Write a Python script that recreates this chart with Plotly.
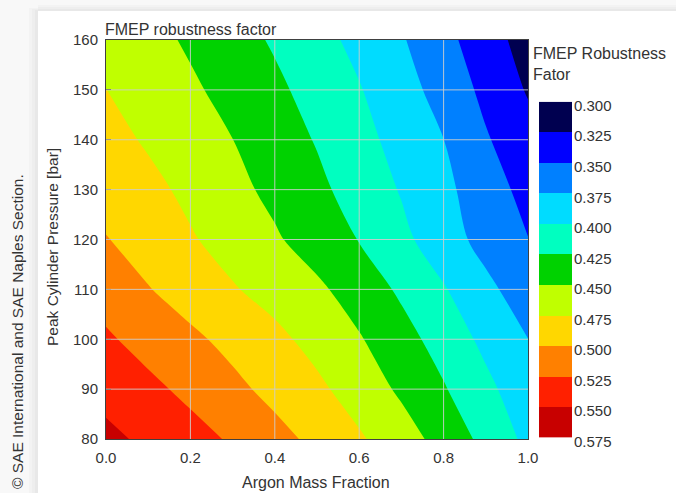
import plotly.graph_objects as go

# ---- data ----
argon = [0.0, 0.1, 0.2, 0.3, 0.4, 0.5, 0.6, 0.7, 0.8, 0.9, 1.0]
pressure = [80, 90, 100, 110, 120, 130, 140, 150, 160]
fmep = [
    [0.556, 0.545, 0.534, 0.522, 0.508, 0.494, 0.478, 0.461, 0.441, 0.418, 0.394],   # 80
    [0.542, 0.531, 0.519, 0.506, 0.493, 0.480, 0.464, 0.446, 0.427, 0.406, 0.385],   # 90
    [0.5285, 0.516, 0.505, 0.493, 0.481, 0.467, 0.452, 0.434, 0.415, 0.394, 0.3752], # 100
    [0.5146, 0.5012, 0.489, 0.477, 0.466, 0.4545, 0.439, 0.421, 0.402, 0.381, 0.362],# 110
    [0.5008, 0.4887, 0.4774, 0.4653, 0.453, 0.4389, 0.4241, 0.406, 0.3864, 0.3666, 0.3505], # 120
    [0.493, 0.4817, 0.4693, 0.4569, 0.444, 0.4304, 0.415, 0.3983, 0.3808, 0.3618, 0.342],   # 130
    [0.4835, 0.4721, 0.4611, 0.4502, 0.4368, 0.4234, 0.4078, 0.3917, 0.3752, 0.3523, 0.334], # 140
    [0.4752, 0.4645, 0.4539, 0.4422, 0.4299, 0.4162, 0.4015, 0.3847, 0.3657, 0.3441, 0.3229],# 150
    [0.469, 0.458, 0.4465, 0.4345, 0.4222, 0.4082, 0.3934, 0.3773, 0.3574, 0.3362, 0.3147],  # 160
]
levels = [0.300, 0.325, 0.350, 0.375, 0.400, 0.425, 0.450, 0.475, 0.500, 0.525, 0.550, 0.575]
level_labels = ["%.3f" % v for v in levels]
band_colors = ["#000050", "#0000ff", "#0080ff", "#00dcff", "#00ffc0", "#00d200",
               "#c0ff00", "#ffd700", "#ff8000", "#ff2000", "#c80000"]
x_ticks = [0.0, 0.2, 0.4, 0.6, 0.8, 1.0]
y_ticks = [80, 90, 100, 110, 120, 130, 140, 150, 160]

step = levels[1] - levels[0]
zmin = levels[0] - step / 2
zmax = levels[-1] + step / 2
stops = [band_colors[0]] + band_colors + [band_colors[-1]]
colorscale = [[k / (len(stops) - 1), c] for k, c in enumerate(stops)]
mids = [(levels[i] + levels[i + 1]) / 2 for i in range(len(levels) - 1)]

FONT = "Liberation Sans, Arial, sans-serif"
TXT = "#333333"
W, H = 676, 493
L, R, T, B = 106, 104, 40, 54
pw = W - L - R
ph = H - T - B


def px_x(p):
    return (p - L) / pw


def px_y(p):
    return (H - B - p) / ph


fig = go.Figure()
fig.add_trace(go.Contour(
    x=argon, y=pressure, z=fmep,
    autocontour=False,
    contours=dict(start=levels[0], end=levels[-1], size=step, coloring="fill", showlines=False),
    line=dict(width=0),
    colorscale=colorscale, zmin=zmin, zmax=zmax,
    showscale=False, hoverinfo="x+y+z",
))

# colour key drawn as a heatmap on its own axes
fig.add_trace(go.Heatmap(
    x=[0, 1], y=levels, z=[[m] for m in mids],
    colorscale=colorscale, zmin=zmin, zmax=zmax,
    showscale=False, xaxis="x2", yaxis="y2", hoverinfo="skip",
))

shapes = []
# background card and shadow
shapes.append(dict(type="rect", xref="paper", yref="paper", layer="below",
                   x0=px_x(-5), x1=px_x(W + 5), y0=px_y(H + 5), y1=px_y(-5),
                   fillcolor="#f8f8f8", line=dict(width=0)))
for i, g in enumerate(["#f3f3f3", "#eeeeee", "#e8e8e8"]):
    shapes.append(dict(type="rect", xref="paper", yref="paper", layer="below",
                       x0=px_x(29 + 3 * i), x1=px_x(38), y0=px_y(H + 5), y1=px_y(11 - 3 + i),
                       fillcolor=g, line=dict(width=0)))
    shapes.append(dict(type="rect", xref="paper", yref="paper", layer="below",
                       x0=px_x(38), x1=px_x(W + 5), y0=px_y(11), y1=px_y(5 + 2 * i),
                       fillcolor=g, line=dict(width=0)))
shapes.append(dict(type="rect", xref="paper", yref="paper", layer="below",
                   x0=px_x(38), x1=px_x(W + 5), y0=px_y(H + 5), y1=px_y(11),
                   fillcolor="white", line=dict(width=0)))
# grid lines on top of the contour fill
for xv in x_ticks[1:-1]:
    shapes.append(dict(type="line", xref="x", yref="y", layer="above",
                       x0=xv, x1=xv, y0=y_ticks[0], y1=y_ticks[-1],
                       line=dict(color="rgba(205,205,205,0.9)", width=1)))
for yv in y_ticks[1:-1]:
    shapes.append(dict(type="line", xref="x", yref="y", layer="above",
                       x0=x_ticks[0], x1=x_ticks[-1], y0=yv, y1=yv,
                       line=dict(color="rgba(205,205,205,0.9)", width=1)))

annotations = [
    dict(text="FMEP robustness factor", xref="paper", yref="paper", x=0, y=1,
         xanchor="left", yanchor="bottom", showarrow=False, yshift=0, xshift=-3,
         font=dict(family=FONT, size=16, color=TXT)),
    dict(text="Argon Mass Fraction", xref="paper", yref="paper", x=px_x(316), y=px_y(482),
         xanchor="center", yanchor="middle", showarrow=False,
         font=dict(family=FONT, size=16, color=TXT)),
    dict(text="Peak Cylinder Pressure [bar]", xref="paper", yref="paper", x=px_x(52), y=px_y(247),
         xanchor="center", yanchor="middle", showarrow=False, textangle=-90,
         font=dict(family=FONT, size=15.5, color=TXT)),
    dict(text="FMEP Robustness<br>Fator", xref="paper", yref="paper", x=px_x(531), y=px_y(43),
         xanchor="left", yanchor="top", showarrow=False, align="left",
         font=dict(family=FONT, size=16, color=TXT)),
    dict(text="\u00a9 SAE International and SAE Naples Section.", xref="paper", yref="paper",
         x=px_x(17), y=px_y(332), xanchor="center", yanchor="middle", showarrow=False,
         textangle=-90, font=dict(family=FONT, size=15.5, color=TXT)),
]

fig.update_layout(
    width=W, height=H,
    margin=dict(l=L, r=R, t=T, b=B, pad=0),
    paper_bgcolor="white", plot_bgcolor="white",
    font=dict(family=FONT, size=15, color=TXT),
    showlegend=False,
    shapes=shapes, annotations=annotations,
    xaxis=dict(domain=[0, px_x(528)], range=[0, 1], tickvals=x_ticks,
               ticktext=["%.1f" % v for v in x_ticks], showgrid=False, zeroline=False,
               showline=True, mirror=True, linecolor="#404040", linewidth=1,
               ticks="", ticklabelstandoff=5, anchor="y"),
    yaxis=dict(domain=[0, 1], range=[80, 160], tickvals=y_ticks, showgrid=False,
               zeroline=False, showline=True, mirror=True, linecolor="#404040", linewidth=1,
               ticks="inside", ticklen=5, tickcolor="#202020", ticklabelstandoff=4, anchor="x"),
    xaxis2=dict(domain=[px_x(539), 1.0], range=[0, 1], visible=False, anchor="y2"),
    yaxis2=dict(domain=[px_y(437.5), px_y(101.7)], range=[levels[-1], levels[0]],
                tickvals=levels, ticktext=level_labels, side="right", anchor="x2",
                showgrid=False, zeroline=False, showline=False, ticks="",
                ticklabelstandoff=1, ticklabelshift=-4),
)

fig.write_html("out.html", config={"displayModeBar": False},
               post_script="document.body.style.margin='0';document.body.style.overflow='hidden';")
